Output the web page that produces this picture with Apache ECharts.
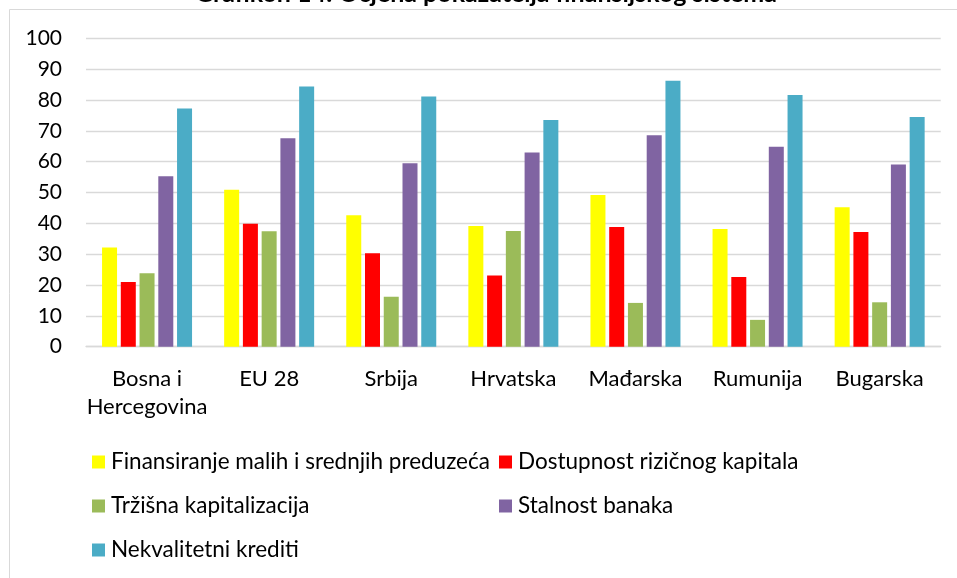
<!DOCTYPE html>
<html>
<head>
<meta charset="utf-8">
<script src="https://cdn.jsdelivr.net/npm/echarts@6/dist/echarts.min.js"></script>
<style>
  html, body { margin: 0; padding: 0; background: #fff; }
  #chart { width: 957px; height: 578px; }
</style>
</head>
<body>
<div id="chart"></div>
<script>
const titleText = 'Grafikon 14: Ocjena pokazatelja finansijskog sistema';
const categories = ['Bosna i\nHercegovina', 'EU 28', 'Srbija', 'Hrvatska', 'Mađarska', 'Rumunija', 'Bugarska'];
const seriesNames = [
  'Finansiranje malih i srednjih preduzeća',
  'Dostupnost rizičnog kapitala',
  'Tržišna kapitalizacija',
  'Stalnost banaka',
  'Nekvalitetni krediti'
];
const finansiranje = [32.2, 50.9, 42.6, 39.1, 49.2, 38.2, 45.2];
const dostupnost   = [21.0, 39.9, 30.3, 23.1, 38.8, 22.6, 37.2];
const trzisna      = [23.8, 37.4, 16.2, 37.5, 14.2, 8.7, 14.4];
const stalnost     = [55.3, 67.6, 59.5, 63.0, 68.6, 64.8, 59.1];
const nekvalitetni = [77.2, 84.4, 81.1, 73.5, 86.2, 81.6, 74.5];
const yTicks = [0, 10, 20, 30, 40, 50, 60, 70, 80, 90, 100];

const values = [finansiranje, dostupnost, trzisna, stalnost, nekvalitetni];
const colors = ['#FFFF00', '#FF0000', '#9BBB59', '#8064A2', '#4BACC6'];
const FONT = 'Lato';
const legendPos = [
  { left: 92, top: 450 },
  { left: 499, top: 450 },
  { left: 92, top: 494 },
  { left: 499, top: 494 },
  { left: 92, top: 538 }
];

const chart = echarts.init(document.getElementById('chart'));
chart.setOption({
  animation: false,
  backgroundColor: '#fff',
  textStyle: { fontFamily: FONT },
  grid: { left: 86, right: 16.3, top: 38.3, bottom: 231.3, containLabel: false },
  xAxis: {
    type: 'category',
    data: categories,
    axisLine: { lineStyle: { color: '#D9D9D9', width: 1.3 } },
    axisTick: { show: false },
    axisLabel: { interval: 0, color: '#000', fontSize: 22, fontFamily: FONT, lineHeight: 28, margin: 18 }
  },
  yAxis: {
    type: 'value',
    min: yTicks[0],
    max: yTicks[yTicks.length - 1],
    interval: 10,
    axisLine: { show: false },
    axisTick: { show: false },
    splitLine: { lineStyle: { color: '#D9D9D9', width: 1.3 } },
    axisLabel: { color: '#000', fontSize: 21, fontFamily: FONT, margin: 24 }
  },
  legend: seriesNames.map((n, i) => ({
    data: [n],
    left: legendPos[i].left,
    top: legendPos[i].top,
    padding: 0,
    itemWidth: 13,
    itemHeight: 13,
    icon: 'rect',
    selectedMode: false,
    textStyle: { color: '#000', fontSize: 22.5, fontFamily: FONT, lineHeight: 24, padding: [0, 0, 0, 1] }
  })),
  series: seriesNames.map((n, i) => ({
    name: n,
    type: 'bar',
    data: values[i],
    barWidth: 15,
    barGap: '25%',
    itemStyle: { color: colors[i] }
  })),
  graphic: [
    {
      type: 'polyline',
      shape: { points: [[9.5, 578], [9.5, 9.5], [957, 9.5]] },
      style: { stroke: '#D9D9D9', lineWidth: 1, fill: null },
      silent: true
    },
    {
      type: 'text',
      x: 486,
      y: -6,
      style: {
        text: titleText,
        font: 'bold 25px ' + FONT,
        fill: '#000',
        align: 'center',
        verticalAlign: 'middle'
      },
      silent: true
    }
  ]
});
</script>
</body>
</html>
